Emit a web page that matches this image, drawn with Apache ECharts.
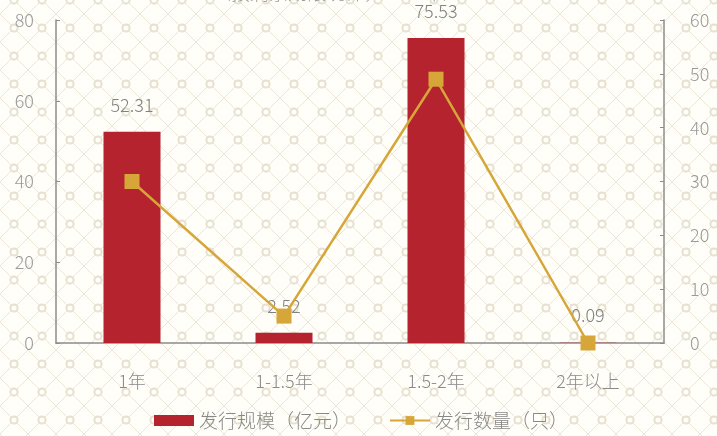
<!DOCTYPE html>
<html>
<head>
<meta charset="utf-8">
<script src="https://cdn.jsdelivr.net/npm/echarts@6/dist/echarts.min.js"></script>
<style>
    html, body {
        margin: 0;
        padding: 0;
        width: 717px;
        height: 436px;
        overflow: hidden;
        background-color: #fffef9;
        background-image: url("data:image/svg+xml,%3Csvg xmlns='http://www.w3.org/2000/svg' width='28' height='28'%3E%3Cpath d='M0 0L28 28M28 0L0 28' stroke='%23ece6d9' stroke-width='1'/%3E%3Ccircle cx='14' cy='14' r='3.6' fill='%23fffef9' stroke='%23e7e0d0' stroke-width='2'/%3E%3C/svg%3E");
        background-position: -0.5px -14px;
    }
    #chart {
        width: 717px;
        height: 436px;
    }
</style>
</head>
<body>
<div id="chart"></div>
<script>
// 期限分类
var categories = ['1年', '1-1.5年', '1.5-2年', '2年以上'];
// 发行规模（亿元）
var scaleValues = [52.31, 2.52, 75.53, 0.09];
// 发行数量（只）
var countValues = [30, 5, 49, 0];
// 坐标轴刻度
var leftTicks = [0, 20, 40, 60, 80];
var rightTicks = [0, 10, 20, 30, 40, 50, 60];

var fontFamily = '"Noto Sans CJK SC", "Noto Sans", sans-serif';

function chartRender() {
    var chart = echarts.init(document.getElementById('chart'));

    var option = {
        backgroundColor: 'transparent',
        animation: false,
        textStyle: {
            fontFamily: fontFamily,
            fontWeight: 300
        },
        // 顶部被裁掉的标题
        graphic: [{
            type: 'text',
            left: 212,
            top: -17,
            style: {
                text: '（按剩余期限统计，2019年）',
                fill: '#999',
                fontSize: 19,
                fontWeight: 300,
                fontFamily: fontFamily
            }
        }],
        grid: {
            left: 56,
            right: 53,
            top: 20,
            bottom: 93
        },
        legend: {
            bottom: 1,
            left: 149,
            itemWidth: 40,
            itemHeight: 11,
            itemGap: 38,
            textStyle: {
                color: '#888',
                fontSize: 19,
                fontWeight: 300
            },
            data: [
                { name: '发行规模（亿元）', icon: 'rect' },
                { name: '发行数量（只）' }
            ]
        },
        xAxis: {
            type: 'category',
            data: categories,
            axisTick: { show: false },
            axisLine: {
                lineStyle: { color: '#8c8c8c', width: 1.5 }
            },
            axisLabel: {
                color: '#8a8a8a',
                fontSize: 18,
                fontWeight: 300,
                margin: 29
            }
        },
        yAxis: [{
            type: 'value',
            min: leftTicks[0],
            max: leftTicks[leftTicks.length - 1],
            interval: leftTicks[1] - leftTicks[0],
            splitLine: { show: false },
            axisLine: {
                show: true,
                lineStyle: { color: '#8c8c8c', width: 1.5 }
            },
            axisTick: {
                show: true,
                inside: true,
                length: 4,
                lineStyle: { color: '#8c8c8c' }
            },
            axisLabel: {
                color: '#9a9a9a',
                fontSize: 18,
                fontWeight: 300,
                margin: 22
            }
        }, {
            type: 'value',
            min: rightTicks[0],
            max: rightTicks[rightTicks.length - 1],
            interval: rightTicks[1] - rightTicks[0],
            splitLine: { show: false },
            axisLine: {
                show: true,
                lineStyle: { color: '#8c8c8c', width: 1.5 }
            },
            axisTick: {
                show: true,
                inside: true,
                length: 4,
                lineStyle: { color: '#8c8c8c' }
            },
            axisLabel: {
                color: '#9a9a9a',
                fontSize: 18,
                fontWeight: 300,
                margin: 26
            }
        }],
        series: [{
            name: '发行规模（亿元）',
            type: 'bar',
            data: scaleValues,
            barWidth: 57,
            itemStyle: {
                color: '#b5232f'
            },
            label: {
                show: true,
                position: 'top',
                distance: 18,
                color: '#808080',
                fontSize: 18,
                fontWeight: 300,
                formatter: function (p) {
                    return p.value.toFixed(2);
                }
            },
            z: 2
        }, {
            name: '发行数量（只）',
            type: 'line',
            yAxisIndex: 1,
            data: countValues,
            symbol: 'rect',
            symbolSize: 15,
            lineStyle: {
                color: '#d6a638',
                width: 2.5
            },
            itemStyle: {
                color: '#d6a638'
            },
            z: 3
        }]
    };

    chart.setOption(option);
}

chartRender();
</script>
</body>
</html>
